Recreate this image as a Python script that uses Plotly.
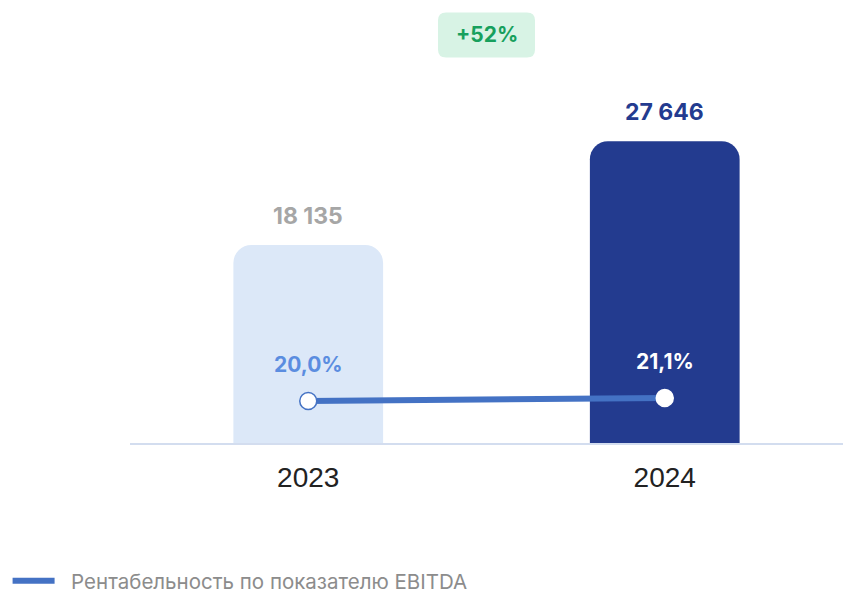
import plotly.graph_objects as go

years = ["2023", "2024"]
ebitda = [18135, 27646]
margin_pct = [20.0, 21.1]
legend_label = "\u00a0\u00a0Рентабельность по показателю EBITDA"

bar_colors = ["#dce8f8", "#233b8f"]
value_colors = ["#a6a6a6", "#233b8f"]
pct_colors = ["#5b8de0", "#ffffff"]
marker_edge = ["#4472c4", "#ffffff"]
line_color = "#4472c4"
label_font = "Inter"

growth = round((ebitda[1] / ebitda[0] - 1) * 100)

fig = go.Figure()
fig.add_trace(go.Bar(
    x=years, y=ebitda, marker=dict(color=bar_colors, cornerradius=18, line=dict(width=0)),
    width=0.42, showlegend=False, hoverinfo="skip",
))
fig.add_trace(go.Scatter(
    x=years, y=margin_pct, yaxis="y2", mode="lines", name=legend_label,
    line=dict(color=line_color, width=6), showlegend=True, hoverinfo="skip",
))
fig.add_trace(go.Scatter(
    x=years, y=margin_pct, yaxis="y2", mode="markers", showlegend=False,
    marker=dict(size=17, color="#ffffff", line=dict(color=marker_edge, width=1.5)),
    hoverinfo="skip",
))

annotations = []
for i, (v, c) in enumerate(zip(ebitda, value_colors)):
    annotations.append(dict(
        x=i, y=v, xref="x", yref="y", text=f"{v:,}".replace(",", " "),
        showarrow=False, yshift=29, font=dict(family=label_font, size=23, color=c, weight=700),
    ))
for i, (v, c) in enumerate(zip(margin_pct, pct_colors)):
    annotations.append(dict(
        x=i, y=v, xref="x", yref="y2", text=f"{v:.1f}%".replace(".", ","),
        showarrow=False, yshift=37, font=dict(family=label_font, size=21, color=c, weight=700),
    ))
annotations.append(dict(
    x=0.5, y=0.921, xref="paper", yref="paper", xanchor="center", yanchor="middle",
    text=f"+{growth}%", showarrow=False,
    font=dict(family=label_font, size=21, color="#17a05d", weight=700),
))

r = 8
w2, h2 = 48.5, 22.5
path = (f"M{-w2 + r},{-h2} L{w2 - r},{-h2} Q{w2},{-h2} {w2},{-h2 + r} L{w2},{h2 - r} "
        f"Q{w2},{h2} {w2 - r},{h2} L{-w2 + r},{h2} Q{-w2},{h2} {-w2},{h2 - r} "
        f"L{-w2},{-h2 + r} Q{-w2},{-h2} {-w2 + r},{-h2} Z")
shapes = [dict(
    type="path", xref="paper", yref="paper", xsizemode="pixel", ysizemode="pixel",
    xanchor=0.5, yanchor=0.921, path=path, fillcolor="#d8f3e5", line=dict(width=0), layer="below",
)]

fig.update_layout(
    width=843, height=594,
    margin=dict(l=130, r=0, t=0, b=151),
    plot_bgcolor="#ffffff", paper_bgcolor="#ffffff",
    xaxis=dict(
        type="category",
        showgrid=False, showline=True, linecolor="#d3ddef", linewidth=2,
        ticks="", ticklabelstandoff=8,
        tickfont=dict(family="Liberation Sans", size=28, color="#222222"),
        range=[-0.5, 1.5],
    ),
    yaxis=dict(range=[0, 40575], visible=False, showgrid=False),
    yaxis2=dict(range=[4.6, 167.05], overlaying="y", visible=False, showgrid=False),
    legend=dict(
        xref="container", yref="container", x=0.009, y=0.022, xanchor="left", yanchor="middle",
        font=dict(family=label_font, size=20.5, color="#8c8c8c"), orientation="h",
        itemwidth=42,
    ),
    annotations=annotations,
    shapes=shapes,
    showlegend=True,
)

fig.write_html("out.html", config={"displayModeBar": False},
               post_script="document.body.style.margin='0';")
